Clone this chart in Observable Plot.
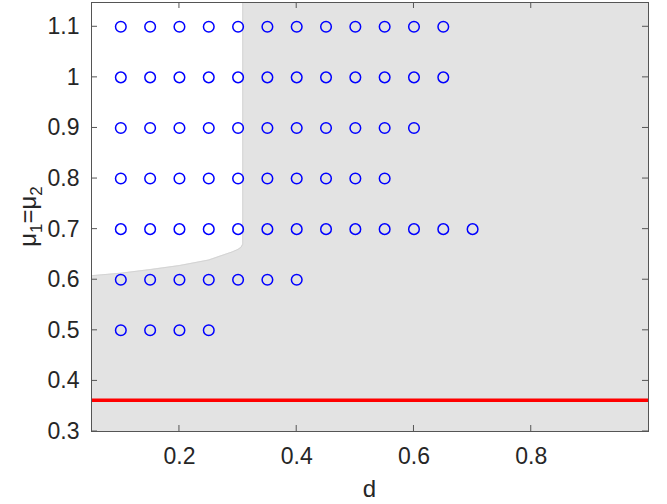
<!DOCTYPE html>
<html>
<head>
<meta charset="utf-8">
<script src="https://cdn.jsdelivr.net/npm/d3@7"></script>
<script src="https://cdn.jsdelivr.net/npm/@observablehq/plot@0.6"></script>
<style>
  html, body { margin: 0; padding: 0; background: #fff; }
  #chart svg { display: block; }
</style>
</head>
<body>
<div id="chart"></div>
<script>
// ---- data ----
const xTicks = [0.2, 0.4, 0.6, 0.8];
const yTicks = [0.3, 0.4, 0.5, 0.6, 0.7, 0.8, 0.9, 1.0, 1.1];

const row110 = [0.1, 0.15, 0.2, 0.25, 0.3, 0.35, 0.4, 0.45, 0.5, 0.55, 0.6, 0.65];
const row100 = [0.1, 0.15, 0.2, 0.25, 0.3, 0.35, 0.4, 0.45, 0.5, 0.55, 0.6, 0.65];
const row090 = [0.1, 0.15, 0.2, 0.25, 0.3, 0.35, 0.4, 0.45, 0.5, 0.55, 0.6];
const row080 = [0.1, 0.15, 0.2, 0.25, 0.3, 0.35, 0.4, 0.45, 0.5, 0.55];
const row070 = [0.1, 0.15, 0.2, 0.25, 0.3, 0.35, 0.4, 0.45, 0.5, 0.55, 0.6, 0.65, 0.7];
const row060 = [0.1, 0.15, 0.2, 0.25, 0.3, 0.35, 0.4];
const row050 = [0.1, 0.15, 0.2, 0.25];
const rowMu = [1.1, 1.0, 0.9, 0.8, 0.7, 0.6, 0.5];

// boundary of the white (non-shaded) region
const boundaryD  = [0.05, 0.10, 0.15, 0.20, 0.25, 0.29, 0.300, 0.305, 0.308];
const boundaryMu = [0.608, 0.613, 0.620, 0.628, 0.639, 0.655, 0.660, 0.664, 0.670];

const redLevel = 0.362;
const xDomain = [0.05, 1.0];
const yDomain = [0.3, 1.148];

// ---- build tables ----
const rows = [row110, row100, row090, row080, row070, row060, row050];
const points = [];
rows.forEach((r, i) => r.forEach(d => points.push({d, mu: rowMu[i]})));

const boundary = boundaryD.map((d, i) => ({d, mu: boundaryMu[i]}));
const edge = boundary.concat([{d: boundaryD[boundaryD.length - 1], mu: yDomain[1]}]);

const textColor = "#262626";
const fmt = v => String(+v.toFixed(1));

const chart = Plot.plot({
  width: 667,
  height: 504,
  marginLeft: 91,
  marginRight: 19,
  marginTop: 2,
  marginBottom: 73,
  style: {fontFamily: "'Liberation Sans', Arial, sans-serif", color: textColor, background: "#fff"},
  x: {domain: xDomain},
  y: {domain: yDomain},
  marks: [
    Plot.frame({fill: "#e3e3e3", stroke: null}),
    Plot.areaY(boundary, {x: "d", y1: "mu", y2: yDomain[1], fill: "#ffffff", curve: "linear"}),
    Plot.line(edge, {x: "d", y: "mu", stroke: "#cfcfcf", strokeWidth: 0.8}),
    Plot.ruleY([redLevel], {stroke: "#ff0000", strokeWidth: 3.5}),
    Plot.dot(points, {x: "d", y: "mu", r: 5.3, stroke: "#0000ff", strokeWidth: 1.5, fill: "none"}),
    // labels
    Plot.axisX({ticks: xTicks, tickSize: 0, tickPadding: 16, tickFormat: fmt, fontSize: 23, label: null, anchor: "bottom"}),
    Plot.axisY({ticks: yTicks, tickSize: 0, tickPadding: 12, tickFormat: fmt, fontSize: 23, label: null, anchor: "left"}),
    // inward ticks on all four sides
    Plot.tickX(xTicks, {x: d => d, frameAnchor: "bottom", insetTop: 0, stroke: "#555", strokeWidth: 1,
      render: (index, scales, values, dims, ctx, next) => {
        const g = d3.create("svg:g");
        const y0 = dims.height - dims.marginBottom, y1 = dims.marginTop;
        for (const i of index) {
          const x = values.x[i];
          g.append("line").attr("x1", x).attr("x2", x).attr("y1", y0).attr("y2", y0 - 6).attr("stroke", "#555");
          g.append("line").attr("x1", x).attr("x2", x).attr("y1", y1).attr("y2", y1 + 6).attr("stroke", "#555");
        }
        return g.node();
      }}),
    Plot.tickY(yTicks, {y: d => d, stroke: "#555", strokeWidth: 1,
      render: (index, scales, values, dims, ctx, next) => {
        const g = d3.create("svg:g");
        const x0 = dims.marginLeft, x1 = dims.width - dims.marginRight;
        for (const i of index) {
          const y = values.y[i];
          g.append("line").attr("x1", x0).attr("x2", x0 + 6).attr("y1", y).attr("y2", y).attr("stroke", "#555");
          g.append("line").attr("x1", x1).attr("x2", x1 - 6).attr("y1", y).attr("y2", y).attr("stroke", "#555");
        }
        return g.node();
      }}),
    Plot.frame({stroke: "#555", strokeWidth: 1})
  ]
});

// axis titles
const svg = d3.select(chart);
svg.append("text")
  .attr("x", (91 + 667 - 19) / 2)
  .attr("y", 497)
  .attr("text-anchor", "middle")
  .attr("font-size", 24)
  .attr("fill", textColor)
  .attr("font-family", "'Liberation Sans', Arial, sans-serif")
  .text("d");

const yl = svg.append("text")
  .attr("transform", `translate(36,${(2 + 504 - 73) / 2}) rotate(-90)`)
  .attr("text-anchor", "middle")
  .attr("font-size", 24)
  .attr("fill", textColor)
  .attr("font-family", "'Liberation Sans', Arial, sans-serif");
yl.append("tspan").text("μ");
yl.append("tspan").attr("font-size", 17).attr("dy", 6).text("1");
yl.append("tspan").attr("dy", -6).text("=μ");
yl.append("tspan").attr("font-size", 17).attr("dy", 6).text("2");

document.getElementById("chart").appendChild(chart);
</script>
</body>
</html>
